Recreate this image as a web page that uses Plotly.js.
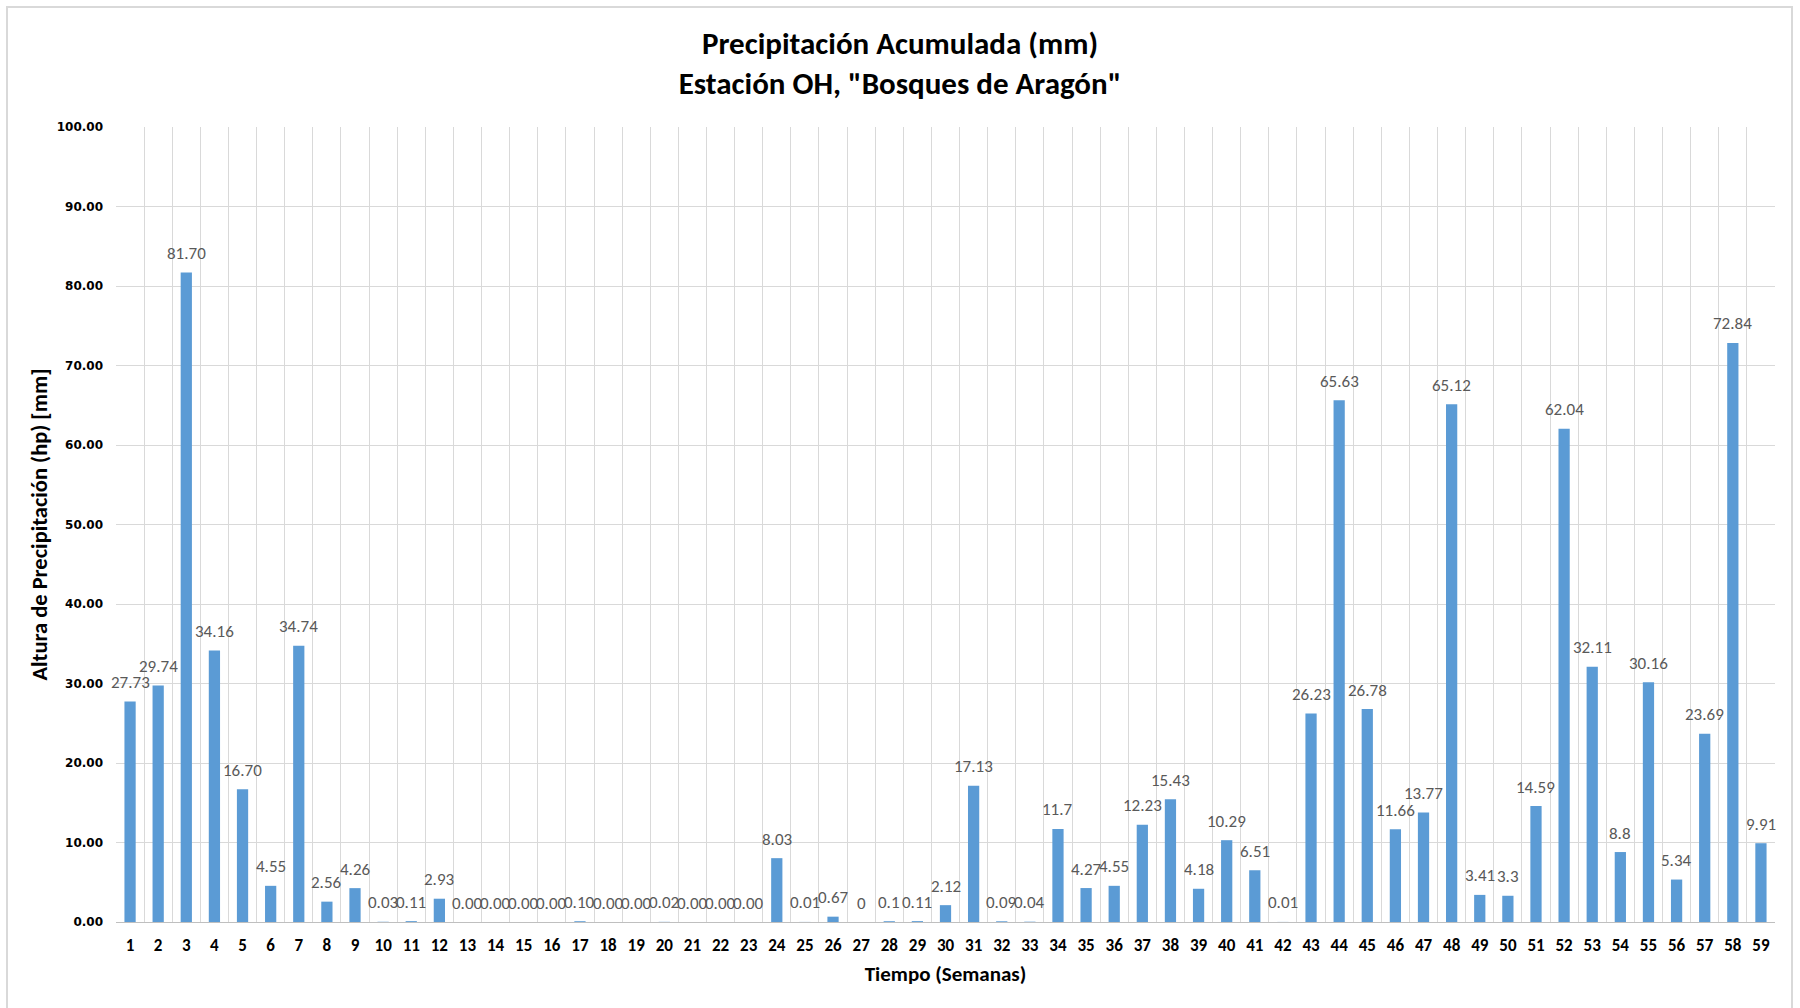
<!DOCTYPE html>
<html>
<head>
<meta charset="utf-8">
<script src="https://cdn.plot.ly/plotly-3.0.1.min.js"></script>
<style>
  html, body { margin: 0; padding: 0; background: #ffffff; }
  #chart { width: 1800px; height: 1008px; }
  #frame { position: absolute; left: 6px; top: 6px; width: 1787px; height: 1010px;
           border: 2px solid #d9d9d9; pointer-events: none; box-sizing: border-box; }
</style>
</head>
<body>
<div id="chart"></div>
<div id="frame"></div>
<script>
const weeks = ["1","2","3","4","5","6","7","8","9","10","11","12","13","14","15","16","17","18","19","20",
  "21","22","23","24","25","26","27","28","29","30","31","32","33","34","35","36","37","38","39","40",
  "41","42","43","44","45","46","47","48","49","50","51","52","53","54","55","56","57","58","59"];
const precip = [27.73,29.74,81.70,34.16,16.70,4.55,34.74,2.56,4.26,0.03,0.11,2.93,0.00,0.00,0.00,0.00,0.10,0.00,0.00,0.02,
  0.00,0.00,0.00,8.03,0.01,0.67,0,0.1,0.11,2.12,17.13,0.09,0.04,11.7,4.27,4.55,12.23,15.43,4.18,10.29,
  6.51,0.01,26.23,65.63,26.78,11.66,13.77,65.12,3.41,3.3,14.59,62.04,32.11,8.8,30.16,5.34,23.69,72.84,9.91];
const precipLabels = ["27.73","29.74","81.70","34.16","16.70","4.55","34.74","2.56","4.26","0.03","0.11","2.93","0.00","0.00","0.00","0.00","0.10","0.00","0.00","0.02",
  "0.00","0.00","0.00","8.03","0.01","0.67","0","0.1","0.11","2.12","17.13","0.09","0.04","11.7","4.27","4.55","12.23","15.43","4.18","10.29",
  "6.51","0.01","26.23","65.63","26.78","11.66","13.77","65.12","3.41","3.3","14.59","62.04","32.11","8.8","30.16","5.34","23.69","72.84","9.91"];
const yTicks = [0,10,20,30,40,50,60,70,80,90,100];
const yTickText = ["0.00","10.00","20.00","30.00","40.00","50.00","60.00","70.00","80.00","90.00","100.00"];

const narrow = '"Liberation Sans Narrow", "Arial Narrow", Carlito, "Open Sans", sans-serif';

const trace = {
  type: 'bar',
  x: weeks,
  y: precip,
  marker: { color: '#5b9bd5', line: { width: 0 } },
  hoverinfo: 'x+y'
};

// value labels: placed at each category's index on the category axis, at the bar's value
const labelAnnotations = weeks.map((w, i) => ({
  x: i,
  y: precip[i],
  xref: 'x',
  yref: 'y',
  text: precipLabels[i],
  showarrow: false,
  xanchor: 'center',
  yanchor: 'middle',
  yshift: 19,
  font: { family: narrow, size: 17, color: '#595959' }
}));

const layout = {
  width: 1800,
  height: 1008,
  margin: { l: 116, r: 25, t: 127, b: 86 },
  paper_bgcolor: '#ffffff',
  plot_bgcolor: '#ffffff',
  bargap: 0.6,
  showlegend: false,
  annotations: labelAnnotations,
  title: {
    text: '<b>Precipitación Acumulada (mm)<br>Estación OH, "Bosques de Aragón"</b>',
    font: { family: narrow, size: 31, color: '#000000' },
    x: 0.5, xanchor: 'center',
    y: 1 - 54 / 1008, yref: 'container', yanchor: 'middle'
  },
  xaxis: {
    type: 'category',
    autorange: false,
    range: [-0.5, weeks.length - 0.5],
    tickson: 'boundaries',
    showgrid: true,
    gridcolor: '#d9d9d9',
    gridwidth: 1,
    showline: true,
    linecolor: '#bfbfbf',
    linewidth: 1,
    ticks: '',
    ticklabelstandoff: 8,
    tickfont: { family: narrow, size: 17, color: '#000000', weight: 'bold' },
    title: { text: '<b>Tiempo (Semanas)</b>', font: { family: narrow, size: 21, color: '#000000' }, standoff: 10 },
    fixedrange: true
  },
  yaxis: {
    range: [0, 100],
    tickvals: yTicks,
    ticktext: yTickText,
    showgrid: true,
    gridcolor: '#d9d9d9',
    gridwidth: 1,
    zeroline: false,
    showline: false,
    ticks: '',
    ticklabelstandoff: 12,
    tickfont: { family: '"DejaVu Sans", Verdana, sans-serif', size: 12, color: '#000000', weight: 'bold' },
    title: { text: '<b>Altura de Precipitación (hp) [mm]</b>', font: { family: narrow, size: 22.5, color: '#000000' }, standoff: 2 },
    fixedrange: true
  }
};

Plotly.newPlot('chart', [trace], layout, { displayModeBar: false, staticPlot: true });
</script>
</body>
</html>
